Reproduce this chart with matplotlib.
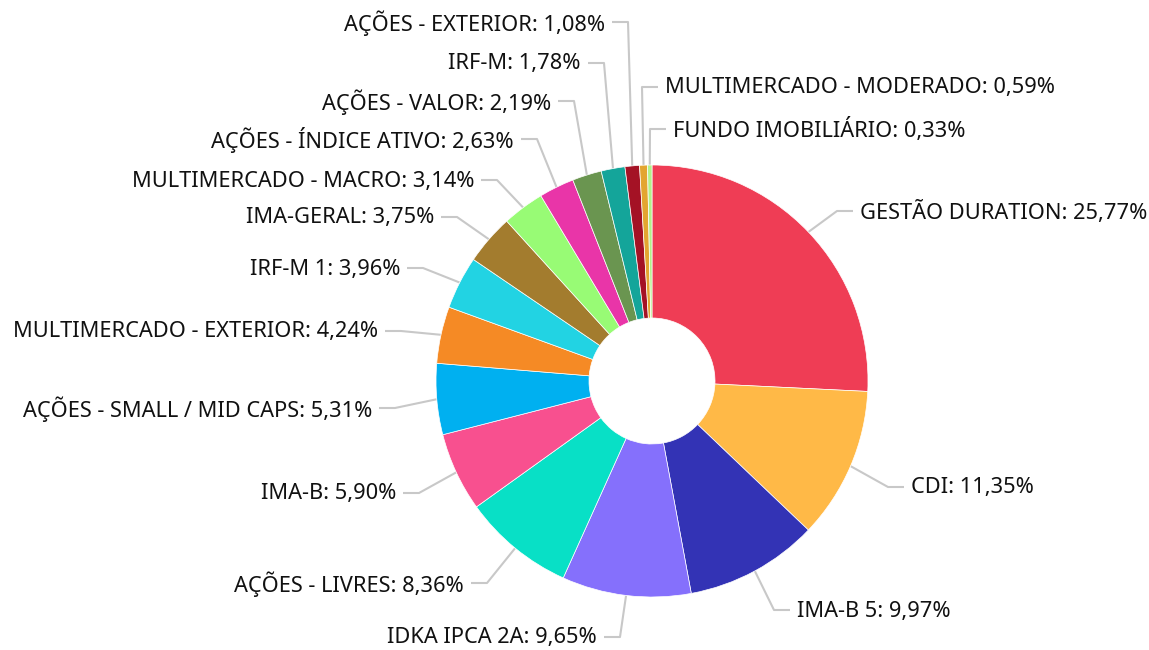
import numpy as np
import matplotlib.pyplot as plt

W, H = 1149, 650

labels = ['GESTÃO DURATION', 'CDI', 'IMA-B 5', 'IDKA IPCA 2A', 'AÇÕES - LIVRES',
          'IMA-B', 'AÇÕES - SMALL / MID CAPS', 'MULTIMERCADO - EXTERIOR', 'IRF-M 1',
          'IMA-GERAL', 'MULTIMERCADO - MACRO', 'AÇÕES - ÍNDICE ATIVO', 'AÇÕES - VALOR',
          'IRF-M', 'AÇÕES - EXTERIOR', 'MULTIMERCADO - MODERADO', 'FUNDO IMOBILIÁRIO']
values = [25.77, 11.35, 9.97, 9.65, 8.36, 5.90, 5.31, 4.24, 3.96, 3.75, 3.14,
          2.63, 2.19, 1.78, 1.08, 0.59, 0.33]
colors = ['#EF3D55', '#FFB947', '#3333B5', '#8570FC', '#08E0C6', '#F8508F', '#00B0F0',
          '#F58A25', '#22D3E3', '#A37C2E', '#98FB75', '#E935A8', '#6A9550', '#14A59A',
          '#A41225', '#E3A530', '#B2F28A']

# label anchor in screen pixels (x of the text edge nearest the pie, y centre), side +1 = right
label_pos = [(860, 211, 1), (911, 487, 1), (797, 610, 1), (597, 637, -1), (464, 583, -1),
             (396, 493, -1), (372, 408, -1), (378, 331, -1), (400, 268, -1), (434, 217, -1),
             (474, 180, -1), (514, 139, -1), (551, 101, -1), (581, 63, -1), (605, 22, -1),
             (665, 87, 1), (673, 129, 1)]

cx, cy = 652, H - 381
r_out, r_in = 216, 63

fig = plt.figure(figsize=(W / 100, H / 100), dpi=100)
ax = fig.add_axes([0, 0, 1, 1])

wedges, _ = ax.pie(values, colors=colors, startangle=90, counterclock=False,
                   center=(cx, cy), radius=r_out,
                   wedgeprops=dict(width=r_out - r_in, edgecolor='white', linewidth=0.5))

for w, lab, v, (tx, ty, side) in zip(wedges, labels, values, label_pos):
    ang = np.deg2rad((w.theta1 + w.theta2) / 2)
    ex, ey = cx + r_out * np.cos(ang), cy + r_out * np.sin(ang)
    y = H - ty
    gap, hseg = 7, 16
    elbow_x = tx - side * (gap + hseg)
    end_x = tx - side * gap
    ax.plot([ex, elbow_x, end_x], [ey, y, y], color='#C8C8C8', lw=1.5,
            solid_capstyle='butt', zorder=0)
    # text sits a pixel lower than the leader line
    ax.text(tx, y - 1, f'{lab}: {v:.2f}%'.replace('.', ','), ha='left' if side > 0 else 'right',
            va='center', fontsize=15.7, color='#111111', family='Noto Sans')

ax.set_xlim(0, W)
ax.set_ylim(0, H)
ax.set_aspect('equal')
ax.axis('off')

plt.savefig('out.png', dpi=100, facecolor='white')
plt.close()
